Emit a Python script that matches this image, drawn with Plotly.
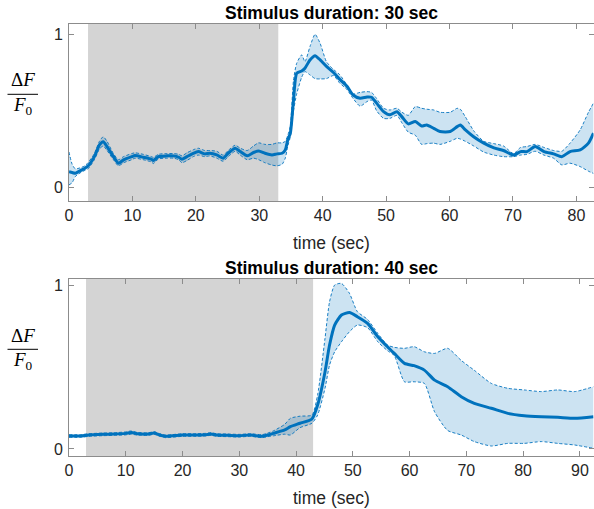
import plotly.graph_objects as go

W, H = 594, 509

# ---------------- data: stimulus 30 s ----------------
t1 = [0, 0.5, 1, 2, 2.5, 3, 4, 4.8, 5.4, 6, 7, 7.8, 8.6, 9.9, 10.4, 11.7, 13, 13.3, 14.1, 15.4,
      16.5, 17.3, 17.8, 18.6, 19.6, 20.4, 21.4, 22.2, 23.3, 24.3, 25.1, 26.2, 27, 28.1, 29.1, 29.9, 30.9, 32, 32.8, 33.6,
      34.1, 34.5, 34.9, 35.4, 35.9, 36.7, 37.2, 38, 38.8, 39.6, 40.6, 41.7, 42.7, 43.8, 44.8, 45.9, 47, 47.7, 48.5, 49.6,
      50.6, 51.7, 52.5, 53.5, 54.6, 55.6, 56.4, 57.5, 58.5, 60.1, 61.2, 61.7, 62.5, 63.8, 65.4, 67, 68.5, 70.1, 71.2, 72.2,
      73.5, 74.9, 76.4, 77.7, 79, 80.6, 81.9, 82.7]
mean1 = [0.102, 0.096, 0.092, 0.113, 0.124, 0.139, 0.20, 0.277, 0.298, 0.266,
         0.20, 0.157, 0.179, 0.20, 0.207, 0.196, 0.183, 0.174, 0.20, 0.205,
         0.205, 0.196, 0.183, 0.20, 0.222, 0.233, 0.218, 0.222, 0.211, 0.19,
         0.222, 0.255, 0.233, 0.205, 0.227, 0.237, 0.222, 0.211, 0.218, 0.222,
         0.244, 0.31, 0.353, 0.57, 0.745, 0.76, 0.778, 0.832, 0.86, 0.832,
         0.79, 0.75, 0.705, 0.662, 0.603, 0.582, 0.59, 0.588, 0.55, 0.494,
         0.473, 0.494, 0.46, 0.414, 0.429, 0.40, 0.407, 0.385, 0.364, 0.364,
         0.396, 0.407, 0.375, 0.33, 0.288, 0.257, 0.24, 0.21, 0.233, 0.233,
         0.266, 0.233, 0.218, 0.20, 0.233, 0.244, 0.288, 0.353]
upper1 = [0.23, 0.15, 0.12, 0.13, 0.14, 0.16, 0.22, 0.30, 0.33, 0.30,
          0.22, 0.18, 0.20, 0.22, 0.225, 0.215, 0.20, 0.195, 0.215, 0.22,
          0.22, 0.215, 0.205, 0.225, 0.245, 0.255, 0.24, 0.24, 0.235, 0.21,
          0.24, 0.275, 0.255, 0.24, 0.27, 0.29, 0.28, 0.28, 0.29, 0.29,
          0.30, 0.34, 0.40, 0.70, 0.81, 0.865, 0.82, 0.92, 1.0, 0.94,
          0.82, 0.77, 0.735, 0.67, 0.61, 0.62, 0.625, 0.62, 0.58, 0.516,
          0.505, 0.516, 0.49, 0.47, 0.527, 0.516, 0.51, 0.505, 0.49, 0.49,
          0.516, 0.51, 0.46, 0.37, 0.30, 0.285, 0.27, 0.22, 0.26, 0.266,
          0.28, 0.26, 0.24, 0.235, 0.288, 0.375, 0.49, 0.55]
lower1 = [0.015, 0.03, 0.07, 0.10, 0.11, 0.12, 0.18, 0.25, 0.27, 0.24,
          0.18, 0.14, 0.16, 0.18, 0.19, 0.18, 0.165, 0.155, 0.185, 0.19,
          0.19, 0.18, 0.16, 0.175, 0.20, 0.21, 0.20, 0.205, 0.19, 0.17,
          0.20, 0.235, 0.21, 0.18, 0.19, 0.18, 0.16, 0.145, 0.14, 0.15,
          0.19, 0.27, 0.33, 0.50, 0.61, 0.72, 0.756, 0.734, 0.71, 0.708,
          0.71, 0.73, 0.68, 0.64, 0.58, 0.53, 0.56, 0.57, 0.50, 0.45,
          0.45, 0.47, 0.42, 0.36, 0.34, 0.28, 0.285, 0.288, 0.28, 0.30,
          0.32, 0.315, 0.30, 0.27, 0.23, 0.21, 0.20, 0.20, 0.21, 0.215,
          0.235, 0.21, 0.19, 0.146, 0.157, 0.135, 0.105, 0.09]

# ---------------- data: stimulus 40 s ----------------
t2 = [0, 2, 3.5, 6, 8, 10, 11, 12, 14, 15, 16, 17, 20, 22, 24, 25, 26, 28, 30, 32,
      34, 35, 36, 38, 39, 40.7, 42.8, 43.8, 45.1, 45.9, 46.8, 48, 49.4, 50.8, 52.6, 54.4, 56.1, 57.3, 59.1, 60.8,
      62.6, 64.4, 66.7, 69.1, 71.4, 74.4, 77.3, 80.2, 83.2, 86.1, 89.1, 92.4]
mean2 = [0.079, 0.079, 0.085, 0.089, 0.091, 0.095, 0.10, 0.093, 0.091, 0.097,
         0.085, 0.077, 0.085, 0.085, 0.087, 0.091, 0.085, 0.083, 0.081, 0.085,
         0.077, 0.085, 0.095, 0.116, 0.136, 0.157, 0.183, 0.268, 0.47, 0.634,
         0.756, 0.817, 0.833, 0.807, 0.766, 0.685, 0.624, 0.583, 0.522, 0.508,
         0.481, 0.42, 0.38, 0.319, 0.278, 0.248, 0.217, 0.203, 0.197, 0.193,
         0.187, 0.197]
upper2 = [0.087, 0.087, 0.093, 0.097, 0.099, 0.104, 0.11, 0.101, 0.099, 0.105,
          0.093, 0.085, 0.093, 0.093, 0.095, 0.099, 0.093, 0.091, 0.089, 0.093,
          0.087, 0.097, 0.11, 0.15, 0.187, 0.20, 0.207, 0.33, 0.675, 0.898,
          1.0, 1.01, 0.95, 0.838, 0.79, 0.705, 0.634, 0.62, 0.614, 0.624,
          0.593, 0.583, 0.614, 0.54, 0.48, 0.40, 0.37, 0.36, 0.35, 0.36,
          0.35, 0.38]
lower2 = [0.071, 0.071, 0.077, 0.081, 0.083, 0.086, 0.09, 0.085, 0.083, 0.089,
          0.077, 0.069, 0.077, 0.077, 0.079, 0.083, 0.077, 0.075, 0.073, 0.077,
          0.069, 0.075, 0.08, 0.09, 0.085, 0.13, 0.157, 0.207, 0.37, 0.512,
          0.593, 0.654, 0.715, 0.756, 0.74, 0.654, 0.60, 0.57, 0.41, 0.41,
          0.40, 0.227, 0.113, 0.085, 0.045, 0.018, 0.034, 0.034, 0.045, 0.034,
          0.024, 0.004]

# stimulus windows and axis settings
stim_on = [3, 3]
stim_off = [33, 43]
titles = ["Stimulus duration: 30 sec", "Stimulus duration: 40 sec"]
x_max = [82.7, 92.4]
y_ranges = [[-0.09, 1.067], [-0.043, 1.037]]
x_ticks = [[0, 10, 20, 30, 40, 50, 60, 70, 80], [0, 10, 20, 30, 40, 50, 60, 70, 80, 90]]
y_ticks = [0, 1]

BLUE = "#0072BD"
FILL = "rgba(0,114,189,0.2)"
AXC = "#8c8c8c"
TXT = "#262626"
SANS = "Liberation Sans, Arial, sans-serif"
SERIF = "Liberation Serif, Times New Roman, serif"

# layout geometry (pixels)
box_left, box_right = 69, 593.5
boxes = [(24, 201), (279, 456)]

fig = go.Figure()
datasets = [(t1, mean1, upper1, lower1), (t2, mean2, upper2, lower2)]
for i, (t, m, u, l) in enumerate(datasets):
    xa = "x" if i == 0 else "x2"
    ya = "y" if i == 0 else "y2"
    fig.add_trace(go.Scatter(x=t, y=l, mode="lines", line=dict(width=0, shape="spline", smoothing=0.6),
                             xaxis=xa, yaxis=ya, showlegend=False, hoverinfo="skip"))
    fig.add_trace(go.Scatter(x=t, y=u, mode="lines", line=dict(width=0, shape="spline", smoothing=0.6),
                             fill="tonexty", fillcolor=FILL, xaxis=xa, yaxis=ya, showlegend=False,
                             hoverinfo="skip"))
    for b in (u, l):
        fig.add_trace(go.Scatter(x=t, y=b, mode="lines",
                                 line=dict(color=BLUE, width=0.9, dash="3px,2px", shape="spline", smoothing=0.6),
                                 xaxis=xa, yaxis=ya, showlegend=False))
    fig.add_trace(go.Scatter(x=t, y=m, mode="lines",
                             line=dict(color=BLUE, width=3, shape="spline", smoothing=0.6),
                             xaxis=xa, yaxis=ya, showlegend=False))

def py(ypix):
    return 1 - ypix / H

axis_common = dict(showgrid=False, zeroline=False, showline=True, linecolor=AXC, linewidth=1,
                   mirror="ticks", ticks="inside", ticklen=5, tickcolor=AXC, tickwidth=1, automargin=False,
                   tickfont=dict(family=SANS, size=16, color=TXT))

layout = dict(width=W, height=H, margin=dict(l=0, r=0, t=0, b=0, autoexpand=False),
              paper_bgcolor="white", plot_bgcolor="white", showlegend=False)
for i in range(2):
    top, bot = boxes[i]
    sfx = "" if i == 0 else "2"
    layout["xaxis" + sfx] = dict(axis_common, domain=[box_left / W, box_right / W], range=[0, x_max[i]],
                                 tickvals=x_ticks[i], anchor="y" + sfx)
    layout["yaxis" + sfx] = dict(axis_common, domain=[py(bot), py(top)], range=y_ranges[i],
                                 tickvals=y_ticks, anchor="x" + sfx, ticklabelstandoff=2)
fig.update_layout(**layout)

shapes = []
annotations = []
for i in range(2):
    top, bot = boxes[i]
    sfx = "" if i == 0 else "2"
    shapes.append(dict(type="rect", xref="x" + sfx, yref="y" + sfx + " domain", x0=stim_on[i], x1=stim_off[i],
                       y0=0, y1=1, fillcolor="#d4d4d4", line=dict(width=0), layer="below"))
    off = 0 if i == 0 else 255
    # fraction bar of the y label
    shapes.append(dict(type="line", xref="paper", yref="paper", x0=7.5 / W, x1=38 / W,
                       y0=py(94.3 + off), y1=py(94.3 + off), line=dict(color="black", width=1)))
    annotations.append(dict(text="\u0394<i>F</i>", xref="paper", yref="paper", x=23 / W, y=py(80 + off),
                            showarrow=False, xanchor="center", yanchor="middle",
                            font=dict(family=SERIF, size=19, color="black")))
    annotations.append(dict(text="<i>F</i><sub>0</sub>", xref="paper", yref="paper", x=23 / W, y=py(106 + off),
                            showarrow=False, xanchor="center", yanchor="middle",
                            font=dict(family=SERIF, size=19, color="black")))
    annotations.append(dict(text="<b>" + titles[i] + "</b>", xref="paper", yref="paper",
                            x=(box_left + box_right) / 2 / W, y=py(12.5 + off), showarrow=False,
                            xanchor="center", yanchor="middle", font=dict(family=SANS, size=17.5, color="black")))
    annotations.append(dict(text="time (sec)", xref="paper", yref="paper",
                            x=(box_left + box_right) / 2 / W, y=py(243 + off), showarrow=False,
                            xanchor="center", yanchor="middle", font=dict(family=SANS, size=17.5, color=TXT)))
fig.update_layout(shapes=shapes, annotations=annotations)

fig.write_html("out.html")
